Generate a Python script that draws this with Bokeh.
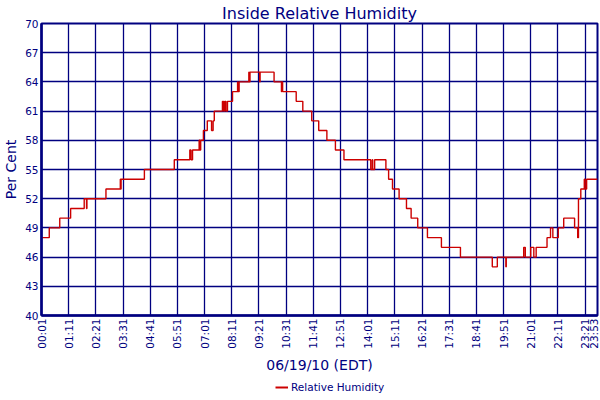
import math
from bokeh.plotting import figure
from bokeh.layouts import column
from bokeh.models import FixedTicker, Legend, LegendItem, Range1d
from bokeh.embed import file_html
from bokeh.resources import INLINE

# ---- data (minutes after midnight, 06/19/10) ----
minutes = [1, 21, 48, 76, 111, 117, 118, 167, 204, 205, 206, 266, 343, 383, 386, 390,
           407, 409, 411, 418, 428, 439, 443, 446, 467, 470, 473, 476, 480, 493, 506,
           507, 510, 535, 536, 538, 563, 564, 600, 619, 620, 622, 657, 674, 697, 715,
           736, 758, 780, 849, 853, 854, 859, 888, 895, 905, 922, 941, 953, 970, 995,
           1031, 1080, 1162, 1175, 1197, 1198, 1243, 1247, 1261, 1269, 1275, 1303, 1312,
           1318, 1332, 1346, 1374, 1382, 1384, 1390, 1399, 1401, 1405, 1433]
humidity = [48, 49, 50, 51, 52, 51, 52, 53, 54, 53, 54, 55, 56, 57, 56, 57,
            58, 57, 58, 59, 60, 59, 60, 61, 62, 61, 62, 61, 62, 63, 64,
            63, 64, 65, 64, 65, 64, 65, 64, 63, 64, 63, 62, 61, 60, 59,
            58, 57, 56, 55, 56, 55, 56, 55, 54, 53, 52, 51, 50, 49, 48,
            47, 46, 45, 46, 45, 46, 47, 46, 47, 46, 47, 48, 49,
            48, 49, 50, 49, 48, 52, 53, 54, 53, 54, 54]

x_tick_minutes = [1, 71, 141, 211, 281, 351, 421, 491, 561, 631, 701, 771, 841, 911,
                  981, 1051, 1121, 1191, 1261, 1331, 1401, 1433]
x_tick_labels = ["00:01", "01:11", "02:21", "03:31", "04:41", "05:51", "07:01", "08:11",
                 "09:21", "10:31", "11:41", "12:51", "14:01", "15:11", "16:21", "17:31",
                 "18:41", "19:51", "21:01", "22:11", "23:21", "23:53"]
y_ticks = [40, 43, 46, 49, 52, 55, 58, 61, 64, 67, 70]

NAVY = "#000080"
RED = "#CC0000"
FONT = "DejaVu Sans"

p = figure(width=592, height=364, frame_width=556, frame_height=292,
           output_backend="svg", toolbar_location=None,
           title="Inside Relative Humidity",
           x_range=Range1d(x_tick_minutes[0], x_tick_minutes[-1]),
           y_range=Range1d(y_ticks[0], y_ticks[-1]),
           min_border_left=0, min_border_right=2, min_border_top=0, min_border_bottom=0)

p.background_fill_color = "white"
p.border_fill_color = "white"
p.outline_line_color = NAVY
p.outline_line_width = 2

p.title.align = "center"
p.title.text_color = NAVY
p.title.text_font = FONT
p.title.text_font_size = "16px"
p.title.text_font_style = "normal"
p.title.standoff = 2

xt = FixedTicker(ticks=x_tick_minutes, minor_ticks=[])
yt = FixedTicker(ticks=y_ticks, minor_ticks=[])

for ax in (p.xaxis[0], p.yaxis[0]):
    ax.axis_line_color = NAVY
    ax.axis_line_width = 2.5
    ax.major_tick_out = 0
    ax.major_tick_in = 0
    ax.minor_tick_out = 0
    ax.minor_tick_in = 0
    ax.major_label_text_color = NAVY
    ax.major_label_text_font = FONT
    ax.major_label_text_font_size = "10.5px"
    ax.axis_label_text_color = NAVY
    ax.axis_label_text_font = FONT
    ax.axis_label_text_font_size = "14px"
    ax.axis_label_text_font_style = "normal"

p.xaxis[0].ticker = xt
p.xaxis[0].major_label_overrides = {m: l for m, l in zip(x_tick_minutes, x_tick_labels)}
p.xaxis[0].major_label_orientation = math.pi / 2
p.xaxis[0].major_label_standoff = 3
p.xaxis[0].axis_label = "06/19/10 (EDT)"
p.xaxis[0].axis_label_standoff = 5

p.yaxis[0].ticker = yt
p.yaxis[0].major_label_standoff = 3
p.yaxis[0].axis_label = "Per Cent"
p.yaxis[0].axis_label_standoff = 3

p.xgrid.ticker = xt
p.ygrid.ticker = yt
for g in (p.xgrid[0], p.ygrid[0]):
    g.grid_line_color = NAVY
    g.grid_line_width = 1.3
    g.grid_line_alpha = 1.0

p.step(minutes, humidity, mode="after", line_color=RED, line_width=1.4)

# ---- legend strip below the chart ----
lg = figure(width=592, height=22, output_backend="svg", toolbar_location=None,
            x_axis_type=None, y_axis_type=None,
            x_range=Range1d(-2, -1), y_range=Range1d(0, 1),
            min_border_left=0, min_border_right=0, min_border_top=0, min_border_bottom=0)
lg.outline_line_color = None
lg.background_fill_color = "white"
lg.border_fill_color = "white"
lr = lg.step(minutes, humidity, mode="after", line_color=RED, line_width=2)

legend = Legend(items=[LegendItem(label="Relative Humidity", renderers=[lr])],
                location=(234, 4), orientation="horizontal",
                border_line_color=None, background_fill_alpha=0,
                margin=0, padding=0, label_standoff=3,
                glyph_width=13, glyph_height=12,
                label_text_color=NAVY, label_text_font=FONT,
                label_text_font_size="10.5px")
lg.add_layout(legend, "center")

layout = column(p, lg, spacing=0)
open("out.html", "w").write(file_html(layout, INLINE))
